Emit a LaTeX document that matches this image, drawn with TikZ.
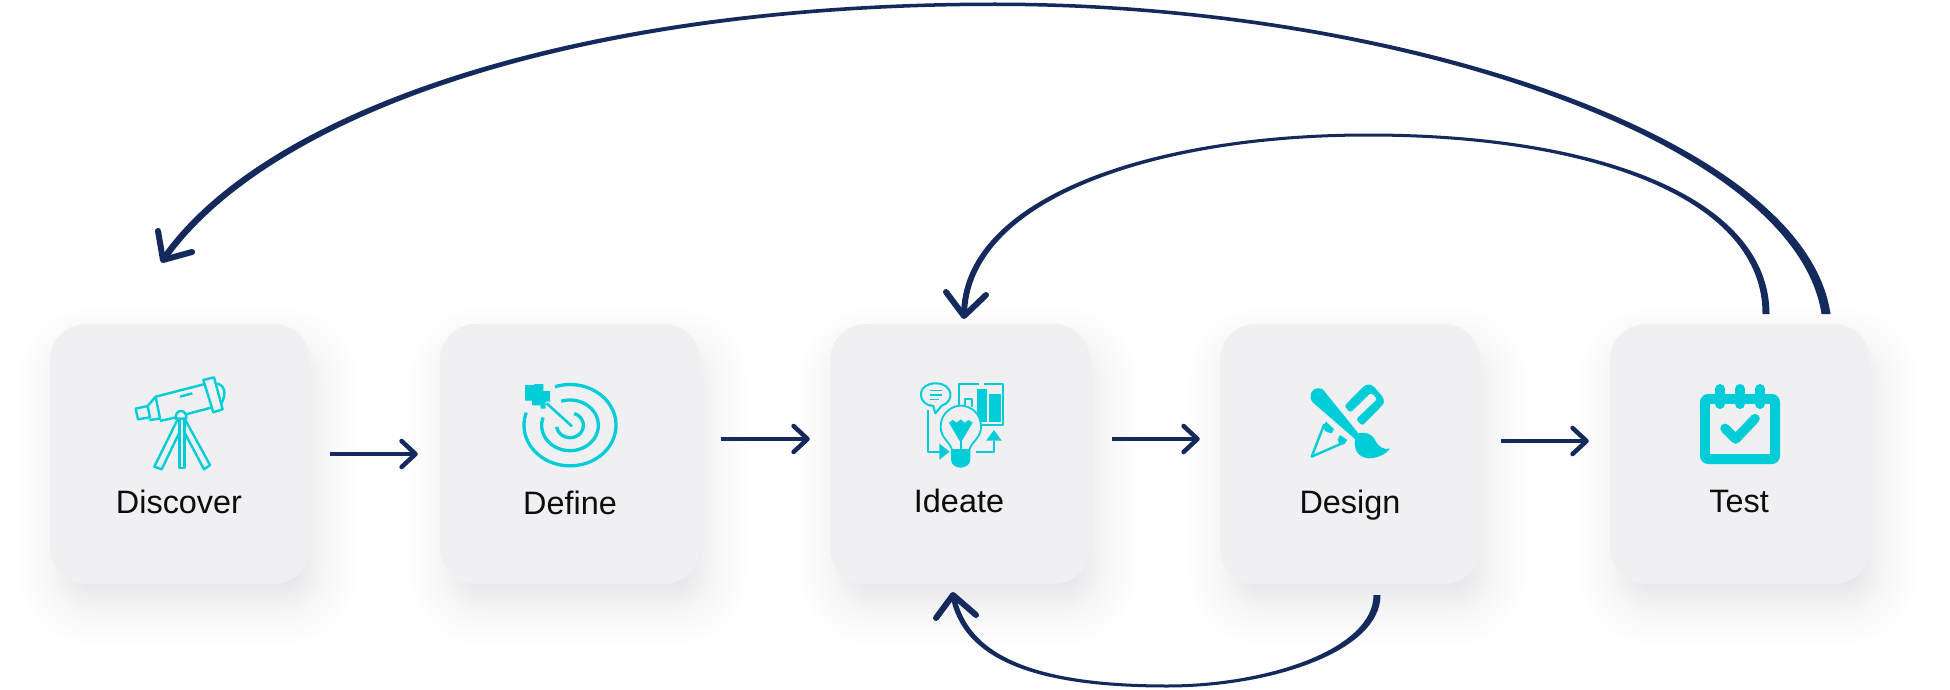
\documentclass[tikz,border=0pt]{standalone}
\usepackage{fontspec}
\setmainfont{Liberation Sans}
\usetikzlibrary{arrows.meta,calc}
\definecolor{navy}{HTML}{152A5C}
\definecolor{cyanicon}{HTML}{00CDD7}
\definecolor{cardgray}{HTML}{F0F0F3}
\definecolor{shadowc}{HTML}{B0B0BE}
\tikzset{
  card/.style={fill=cardgray,draw=none,rounded corners=36pt,minimum width=260pt,minimum height=260pt,inner sep=0pt},
  lab/.style={anchor=base,inner sep=0pt,text=black!95,font=\fontsize{32.4}{36}\selectfont},
  harrow/.style={draw=navy,line width=4.5pt,-{Straight Barb[length=14pt,width=26pt,line width=4.5pt,round]}},
  curvefill/.style={fill=navy,draw=none},
  tipline/.style={draw=navy,line width=6pt,line cap=round,line join=round,fill=none},
  ico/.style={draw=cyanicon,line width=2.4pt,line join=round,fill=none},
  icofill/.style={fill=cyanicon,draw=none},
  iconscope/.style={x=0.33333pt,y=-0.33333pt},
}
\newcommand{\softshadow}[1]{%
  \foreach \r/\op in {-24/0.02,-20/0.02,-16/0.02,-12/0.02,-8/0.02,-4/0.018,0/0.016,4/0.014,8/0.012,12/0.011,16/0.01,20/0.009,24/0.008,28/0.007,32/0.006,36/0.005,40/0.004}{%
    \pgfmathsetmacro{\rad}{max(10,36+\r)}%
    \fill[shadowc,fill opacity=\op,rounded corners=\rad pt]
      (#1-130+8-\r,324+22-\r) rectangle (#1+130+8+\r,584+22+\r);
  }%
}
\begin{document}
\begin{tikzpicture}[x=1pt,y=-1pt]
\useasboundingbox (0,0) rectangle (1950,690);
\fill[white] (0,0) rectangle (1950,690);

\clip (0,0) rectangle (1950,690);
\softshadow{180}
\softshadow{570}
\softshadow{960}
\softshadow{1350}
\softshadow{1740}

\node[card] (c1) at (180,454) {};
\node[card] (c2) at (570,454) {};
\node[card] (c3) at (960,454) {};
\node[card] (c4) at (1350,454) {};
\node[card] (c5) at (1740,454) {};

\node[lab] (l1) at (179,513) {Discover};
\node[lab] (l2) at (570,514) {Define};
\node[lab] (l3) at (959,512) {Ideate};
\node[lab] (l4) at (1350,513) {Design};
\node[lab] (l5) at (1739,512) {Test};

% straight connectors
\draw[harrow] ([xshift=20pt]c1.east) -- ([xshift=-22pt]c2.west);
\draw[harrow] ([xshift=21pt,yshift=15pt]c2.east) -- ([xshift=-20pt,yshift=15pt]c3.west);
\draw[harrow] ([xshift=22pt,yshift=15pt]c3.east) -- ([xshift=-20pt,yshift=15pt]c4.west);
\draw[harrow] ([xshift=21pt,yshift=13pt]c4.east) -- ([xshift=-21pt,yshift=13pt]c5.west);

% big loop: Test -> Discover
\coordinate (bt1) at (1830.5,314); \coordinate (bt2) at (1821.5,314);
\coordinate (bh) at (163,260); \coordinate (bw1) at (158,231); \coordinate (bw2) at (192,252);
\fill[curvefill] (bt1) .. controls (1805,138) and (1400,2.5) .. (995,2.5)
  .. controls (558,2.5) and (257,117) .. (160.5,258)
  -- (165.5,262) .. controls (262,122) and (560,6) .. (995,6)
  .. controls (1400,6) and (1795,142) .. (bt2) -- cycle;
\draw[tipline] (bw1) -- (bh) -- (bw2);

% middle loop: Test -> Ideate
\coordinate (mt1) at (1769.5,314); \coordinate (mt2) at (1762.5,314);
\coordinate (mh) at (964,316); \coordinate (mw1) at (946,292); \coordinate (mw2) at (986,295);
\fill[curvefill] (mt1) .. controls (1769,198) and (1600,133.5) .. (1368,133.5)
  .. controls (1150,133.5) and (961,198) .. (961,316)
  -- (967,316) .. controls (967,202) and (1150,136.5) .. (1368,136.5)
  .. controls (1600,136.5) and (1763,202) .. (mt2) -- cycle;
\draw[tipline] (mw1) -- (mh) -- (mw2);

% bottom loop: Design -> Ideate
\coordinate (lt1) at (1380.5,595); \coordinate (lt2) at (1373.5,595);
\coordinate (lh) at (953,595); \coordinate (lw1) at (936,618); \coordinate (lw2) at (976,615);
\fill[curvefill] (lt1) .. controls (1380.5,652) and (1270,687.5) .. (1167,687.5)
  .. controls (1040,687.5) and (963,662) .. (950.5,596)
  -- (955.5,594) .. controls (967,658) and (1040,684.5) .. (1167,684.5)
  .. controls (1270,684.5) and (1373.5,648) .. (lt2) -- cycle;
\draw[tipline] (lw1) -- (lh) -- (lw2);

% telescope
\begin{scope}[shift={(120,370)},iconscope]
  \draw[ico] (47,116) -- (83,108) -- (90,142) -- (54,148) -- cycle;
  \draw[ico] (83,108) -- (107,80) -- (120,146) -- (88,150);
  \draw[ico] (107,80) -- (255,42);
  \draw[ico] (277,112) -- (198,133);
  \draw[ico] (168,142) -- (120,153);
  \draw[ico] (250,30) -- (282,22) -- (308,118) -- (280,127) -- cycle;
  \draw[ico] (292,40) .. controls (312,45) and (322,70) .. (303,102);
  \draw[ico] (180,80) -- (217,70);
  \draw[ico] (167,146) .. controls (165,115) and (201,115) .. (199,146) -- cycle;
  \draw[ico] (178,148) -- (178,294) -- (194,294) -- (194,148);
  \draw[ico] (172,150) -- (103,290) -- (125,298) -- (177,190);
  \draw[ico] (196,150) -- (270,285) -- (252,298) -- (195,190);
\end{scope}

% target
\begin{scope}[shift={(500,360)},iconscope]
  \draw[ico,line width=3.3pt] plot[domain=109:-198,samples=90] ({210+138*cos(\x)},{195.5-122*sin(\x)});
  \draw[ico,line width=3.3pt] plot[domain=108:-198,samples=70] ({210+85*cos(\x)},{196-76*sin(\x)});
  \draw[ico,line width=3.3pt] plot[domain=72:-173,samples=50] ({210+40*cos(\x)},{196-37*sin(\x)});
  \draw[ico,line width=2.6pt] (140,130) -- (216,199);
  \fill[icofill] (75,75) -- (102,75) -- (102,72) -- (130,72) -- (130,93) -- (150,93) -- (150,125) -- (137,125)
     -- (137,146) -- (122,146) -- (122,136) -- (96,136) -- (96,122) -- (75,122) -- cycle;
\end{scope}

% idea
\begin{scope}[shift={(900,370)},iconscope]
  \draw[ico,line width=1.8pt] (237,41) -- (178,41) -- (178,108);
  \draw[ico,line width=1.8pt] (252,41) -- (310,41) -- (310,165) -- (240,165);
  \draw[ico,line width=1.8pt] (194,110) -- (194,86) -- (217,86) -- (217,112);
  \fill[icofill] (230,57) rectangle (262,155);
  \fill[icofill] (268,72) rectangle (302,155);
  \draw[ico,line width=2pt] (85,105) .. controls (50,90) and (55,40) .. (107,40)
     .. controls (160,40) and (165,95) .. (125,107) -- (106,130) -- (100,108) .. controls (95,108) and (90,107) .. (85,105) -- cycle;
  \foreach \yy/\xe in {62/125,75/125,88/118}{\draw[ico,line width=1.6pt] (90,\yy) -- (\xe,\yy);}
  \draw[ico,line width=2pt] (83,120) -- (83,245) -- (125,245);
  \fill[icofill] (118,221) -- (149,245) -- (118,269) -- cycle;
  \draw[ico,line width=2pt] (228,247) -- (281,247) -- (281,208);
  \fill[icofill] (258,212) -- (282,180) -- (305,212) -- cycle;
  \draw[ico,line width=1.8pt,fill=cardgray] (156,240) .. controls (150,215) and (122,205) .. (122,170)
     .. controls (122,130) and (155,107) .. (182,107)
     .. controls (212,107) and (243,130) .. (243,170)
     .. controls (243,205) and (214,215) .. (208,240) -- cycle;
  \fill[icofill] (153,240) -- (211,240) -- (211,268) .. controls (211,285) and (195,293) .. (182,293)
     .. controls (168,293) and (153,285) .. (153,268) -- cycle;
  \fill[icofill] (147,158) -- (158,150) -- (170,158) -- (182,148) -- (194,158) -- (206,150) -- (218,158)
     -- (186,212) -- (178,212) -- cycle;
  \draw[ico,line width=2pt] (182,205) -- (182,240);
\end{scope}

% design
\begin{scope}[shift={(1290,370)},iconscope]
  \fill[icofill,rounded corners=2.5pt] (163,108) -- (222,48) -- (236,42) -- (250,48) -- (278,80) -- (283,95) -- (278,105) -- (217,167)
     -- (198,148) -- (262,87) -- (243,68) -- (181,128) -- cycle;
  \fill[icofill] (100,60) -- (205,190) .. controls (225,185) and (245,190) .. (255,210)
     .. controls (265,230) and (280,240) .. (300,236) .. controls (285,255) and (260,265) .. (235,265)
     .. controls (205,262) and (190,240) .. (195,207) -- (68,97)
     .. controls (55,80) and (62,55) .. (85,55) .. controls (92,55) and (96,56) .. (100,60) -- cycle;
  \draw[ico,line width=2.4pt] (103,162) -- (65,260) -- (165,216);
  \fill[icofill] (108,155) -- (132,177) -- (125,190) -- (108,185) -- (98,172) -- cycle;
  \fill[icofill] (172,210) -- (150,195) -- (143,208) -- (147,220) -- (160,224) -- cycle;
\end{scope}

% calendar
\begin{scope}[shift={(1680,370)},iconscope]
  \fill[icofill,rounded corners=8pt] (60,72) rectangle (300,282);
  \fill[cardgray] (90,102) rectangle (270,252);
  \foreach \xx in {120,180,240}{\draw[cyanicon,line width=10pt,line cap=round] (\xx,57) -- (\xx,102);}
  \draw[cyanicon,line width=9.5pt,line cap=round,line join=round] (135,175) -- (167,207) -- (225,146);
\end{scope}
\end{tikzpicture}
\end{document}
